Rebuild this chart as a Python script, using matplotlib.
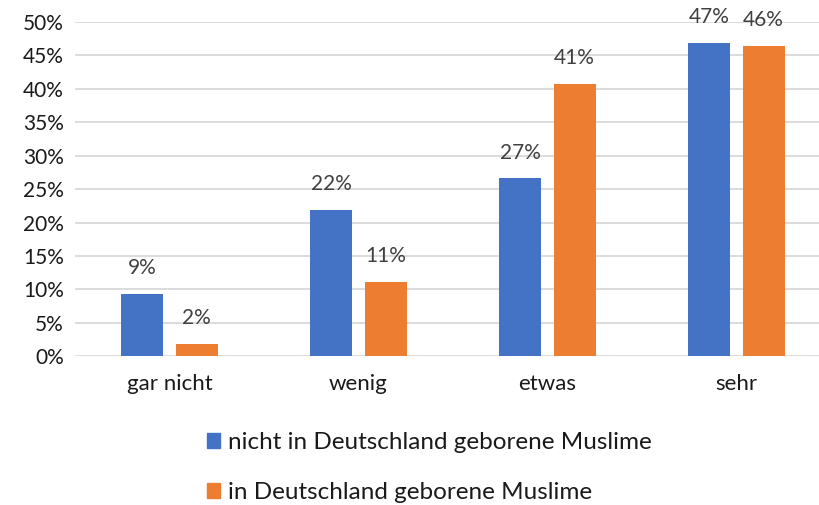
import numpy as np
import matplotlib.pyplot as plt
from matplotlib.patches import Patch

plt.rcParams['font.family'] = ['Lato', 'DejaVu Sans']

# data
categories = ['gar nicht', 'wenig', 'etwas', 'sehr']
series_names = ['nicht in Deutschland geborene Muslime', 'in Deutschland geborene Muslime']
not_born = [0.093, 0.219, 0.266, 0.469]
born = [0.019, 0.111, 0.407, 0.464]
colors = ['#4472C4', '#ED7D31']

fig = plt.figure(figsize=(8.2, 5.05), dpi=100)
ax = fig.add_axes([75/820, 0.2945, 745/820, 0.6622])

x = np.arange(len(categories))
w = 0.222
off = 0.143
b1 = ax.bar(x - off, not_born, w, color=colors[0], zorder=3)
b2 = ax.bar(x + off, born, w, color=colors[1], zorder=3)

for bars, vals in ((b1, not_born), (b2, born)):
    for r, v in zip(bars, vals):
        ax.annotate(f'{round(v*100)}%', (r.get_x() + r.get_width()/2, v),
                    xytext=(0, 18.5), textcoords='offset points',
                    ha='center', va='center', fontsize=15, color='#404040')

ax.set_xlim(-0.5, -0.5 + 745/189)
ax.set_ylim(0, 0.5)
ax.set_yticks(np.arange(0, 0.51, 0.05))
ax.set_yticklabels([f'{t}%' for t in range(0, 51, 5)])
ax.set_xticks(x)
ax.set_xticklabels(categories, fontsize=16)
ax.tick_params(axis='both', length=0, colors='#1a1a1a')
ax.tick_params(axis='y', labelsize=15, pad=8)
ax.tick_params(axis='x', pad=13)
ax.grid(axis='y', color='#d9d9d9', linewidth=1.3, zorder=0)
for s in ax.spines.values():
    s.set_visible(False)

handles = [Patch(color=c) for c in colors]
fig.legend(handles, series_names, loc='upper left', bbox_to_anchor=(185/820, 1 - 410/505),
           frameon=False, fontsize=17.5, handlelength=0.55, handleheight=0.55,
           handletextpad=0.3, labelspacing=1.2, labelcolor='#1a1a1a')

fig.savefig('out.png', dpi=100)
